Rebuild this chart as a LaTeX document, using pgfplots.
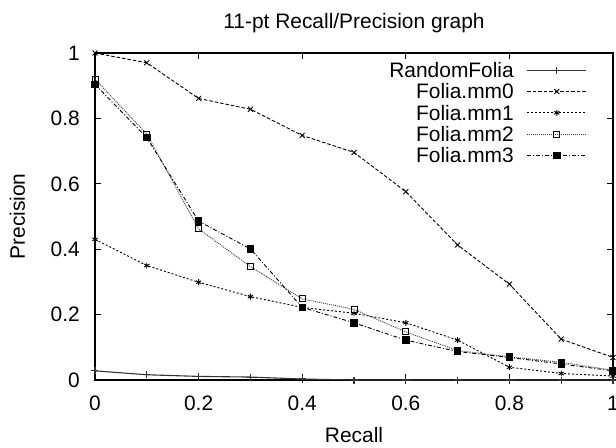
\documentclass[border=0pt]{standalone}
\usepackage{fontspec}
\setmainfont{Liberation Sans}
\usepackage{pgfplots}
\pgfplotsset{compat=1.18}
\begin{document}
\fontsize{21}{24}\selectfont
\begin{tikzpicture}
\path[use as bounding box] (-95bp,-68bp) rectangle (521bp,380bp);
\begin{axis}[
  at={(0,0)}, anchor=south west,
  scale only axis, width=518bp, height=327bp,
  xmin=0, xmax=1, ymin=0, ymax=1,
  clip=false,
  axis line style={line width=1.1bp},
  xtick={0,0.2,0.4,0.6,0.8,1}, ytick={0,0.2,0.4,0.6,0.8,1},
  tick align=inside, major tick length=6bp, tick style={line width=0.8bp, black},
  /pgf/number format/assume math mode=true,
  tick label style={font=\fontsize{21}{24}\selectfont},
  xticklabel style={inner sep=0pt, anchor=north, yshift=-16bp},
  yticklabel style={inner sep=0pt, anchor=east, xshift=-15bp},
  title={11-pt Recall/Precision graph},
  title style={font=\fontsize{21}{24}\selectfont, at={(axis description cs:0.5,1)}, anchor=base, yshift=19bp, inner sep=0pt},
  xlabel={Recall},
  xlabel style={font=\fontsize{21}{24}\selectfont, at={(axis description cs:0.5,0)}, anchor=base, yshift=-62bp, inner sep=0pt},
  ylabel={Precision},
  ylabel style={font=\fontsize{21}{24}\selectfont, at={(axis description cs:0,0.5)}, anchor=base, yshift=70bp, inner sep=0pt},
  legend cell align=right,
  legend plot pos=right,
  legend style={draw=none, fill=none, inner sep=0pt, column sep=13bp,
    at={(rel axis cs:0.95,0.9806)}, anchor=north east,
    font=\fontsize{21}{24}\selectfont,
    nodes={inner sep=0pt, text height=17.9bp, text depth=3.4bp}},
  legend image code/.code={\draw[#1, mark repeat=2, mark phase=2] plot coordinates {(0bp,0bp) (29.5bp,0bp) (59bp,0bp)};},
  every axis plot/.append style={line width=0.9bp},
]
\addplot[black!80, solid, line width=1.1bp, mark=+, mark size=3.5bp, mark options={solid}] coordinates {
(0,0.028)(0.1,0.016)(0.2,0.011)(0.3,0.009)(0.4,0.003)(0.5,0)(0.6,0)(0.7,0)(0.8,0)(0.9,0)(1,0)};
\addlegendentry{RandomFolia}
\addplot[black, dash pattern=on 3.5bp off 2bp, mark=x, mark size=3.5bp, mark options={solid}] coordinates {
(0,1.0)(0.1,0.970)(0.2,0.861)(0.3,0.828)(0.4,0.748)(0.5,0.696)(0.6,0.576)(0.7,0.413)(0.8,0.293)(0.9,0.125)(1,0.069)};
\addlegendentry{Folia.mm0}
\addplot[black, dash pattern=on 2bp off 2bp, mark=asterisk, mark size=3bp, mark options={solid}] coordinates {
(0,0.430)(0.1,0.350)(0.2,0.299)(0.3,0.255)(0.4,0.222)(0.5,0.204)(0.6,0.175)(0.7,0.122)(0.8,0.039)(0.9,0.020)(1,0.012)};
\addlegendentry{Folia.mm1}
\addplot[black!75, dash pattern=on 1bp off 1bp, mark=square, mark size=3bp, mark options={solid, black}] coordinates {
(0,0.920)(0.1,0.752)(0.2,0.462)(0.3,0.347)(0.4,0.248)(0.5,0.216)(0.6,0.147)(0.7,0.090)(0.8,0.071)(0.9,0.054)(1,0.030)};
\addlegendentry{Folia.mm2}
\addplot[black, dash pattern=on 4bp off 2bp on 1bp off 2bp, mark=square*, mark size=3.2bp, mark options={solid, fill=black}] coordinates {
(0,0.904)(0.1,0.741)(0.2,0.486)(0.3,0.401)(0.4,0.222)(0.5,0.175)(0.6,0.122)(0.7,0.087)(0.8,0.069)(0.9,0.049)(1,0.028)};
\addlegendentry{Folia.mm3}
\end{axis}
\end{tikzpicture}
\end{document}
